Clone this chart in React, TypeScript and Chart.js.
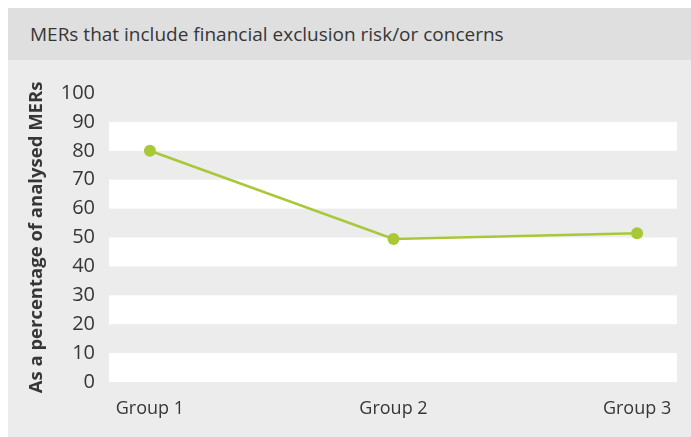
import React, { useEffect, useRef } from "react";
import { Chart, registerables } from "chart.js";

Chart.register(...registerables);

const titleText = "MERs that include financial exclusion risk/or concerns";
const yAxisTitle = "As a percentage of analysed MERs";
const categories = ["Group 1", "Group 2", "Group 3"];
const values = [80, 49.5, 51.5];
const yTicks = [0, 10, 20, 30, 40, 50, 60, 70, 80, 90, 100];
const whiteBands: [number, number][] = [[0, 10], [20, 30], [40, 50], [60, 70], [80, 90]];

const LINE = "#a8c838";
const TEXT = "#363636";
const BODY_BG = "#ececec";
const HEAD_BG = "#dfdfe0";
const FONT = "'Open Sans', 'Noto Sans', sans-serif";

const bandPlugin = {
  id: "bands",
  beforeDatasetsDraw(chart: any) {
    const { ctx, chartArea, scales } = chart;
    const y = scales.y;
    ctx.save();
    ctx.fillStyle = "#ffffff";
    for (const [a, b] of whiteBands) {
      const top = y.getPixelForValue(b);
      const bot = y.getPixelForValue(a);
      ctx.fillRect(chartArea.left, top, chartArea.right - chartArea.left, bot - top);
    }
    ctx.restore();
  },
};

export default function App() {
  const ref = useRef<HTMLCanvasElement | null>(null);

  useEffect(() => {
    document.documentElement.style.overflow = "hidden";
    const canvas = ref.current;
    if (!canvas) return;
    const chart = new Chart(canvas, {
      type: "line",
      data: {
        datasets: [
          {
            data: values.map((v, i) => ({ x: i, y: v })),
            borderColor: LINE,
            backgroundColor: LINE,
            borderWidth: 2.5,
            pointRadius: 6,
            pointBackgroundColor: LINE,
            pointBorderWidth: 0,
            tension: 0,
          },
        ],
      },
      options: {
        animation: false,
        responsive: false,
        maintainAspectRatio: false,
        layout: { padding: { top: 33, right: 14, left: 0, bottom: 0 } },
        plugins: { legend: { display: false }, tooltip: { enabled: false } },
        scales: {
          x: {
            type: "linear",
            min: -0.168,
            max: 2.164,
            grid: { display: false, drawTicks: false },
            border: { display: false },
            afterBuildTicks: (scale: any) => {
              scale.ticks = categories.map((_, i) => ({ value: i }));
            },
            afterFit: (scale: any) => {
              scale.height = 55;
            },
            ticks: {
              padding: 16,
              color: TEXT,
              font: { family: FONT, size: 18 },
              callback: (v: any) => categories[v as number] ?? "",
              maxRotation: 0,
              autoSkip: false,
            },
          },
          y: {
            min: 0,
            max: 100,
            grid: { display: false, drawTicks: false },
            border: { display: false },
            afterBuildTicks: (scale: any) => {
              scale.ticks = yTicks.map((v) => ({ value: v }));
            },
            afterFit: (scale: any) => {
              scale.width = 101;
            },
            ticks: {
              padding: 14,
              color: TEXT,
              font: { family: FONT, size: 20 },
            },
            title: {
              display: true,
              text: yAxisTitle,
              color: TEXT,
              font: { family: FONT, size: 18.5, weight: "bold" },
              padding: { top: 18, bottom: 0 },
            },
          },
        },
      },
      plugins: [bandPlugin],
    });
    return () => chart.destroy();
  }, []);

  return (
    <div
      style={{
        position: "absolute",
        left: 8,
        top: 8,
        width: 700,
        height: 450,
        overflow: "hidden",
        background: BODY_BG,
      }}
    >
      <div
        style={{
          height: 52,
          background: HEAD_BG,
          display: "flex",
          alignItems: "center",
          paddingLeft: 22,
          fontFamily: FONT,
          fontSize: 19,
          color: TEXT,
          boxSizing: "border-box",
        }}
      >
        {titleText}
      </div>
      <canvas ref={ref} width={683} height={377} style={{ display: "block", width: 683, height: 377 }} />
    </div>
  );
}
